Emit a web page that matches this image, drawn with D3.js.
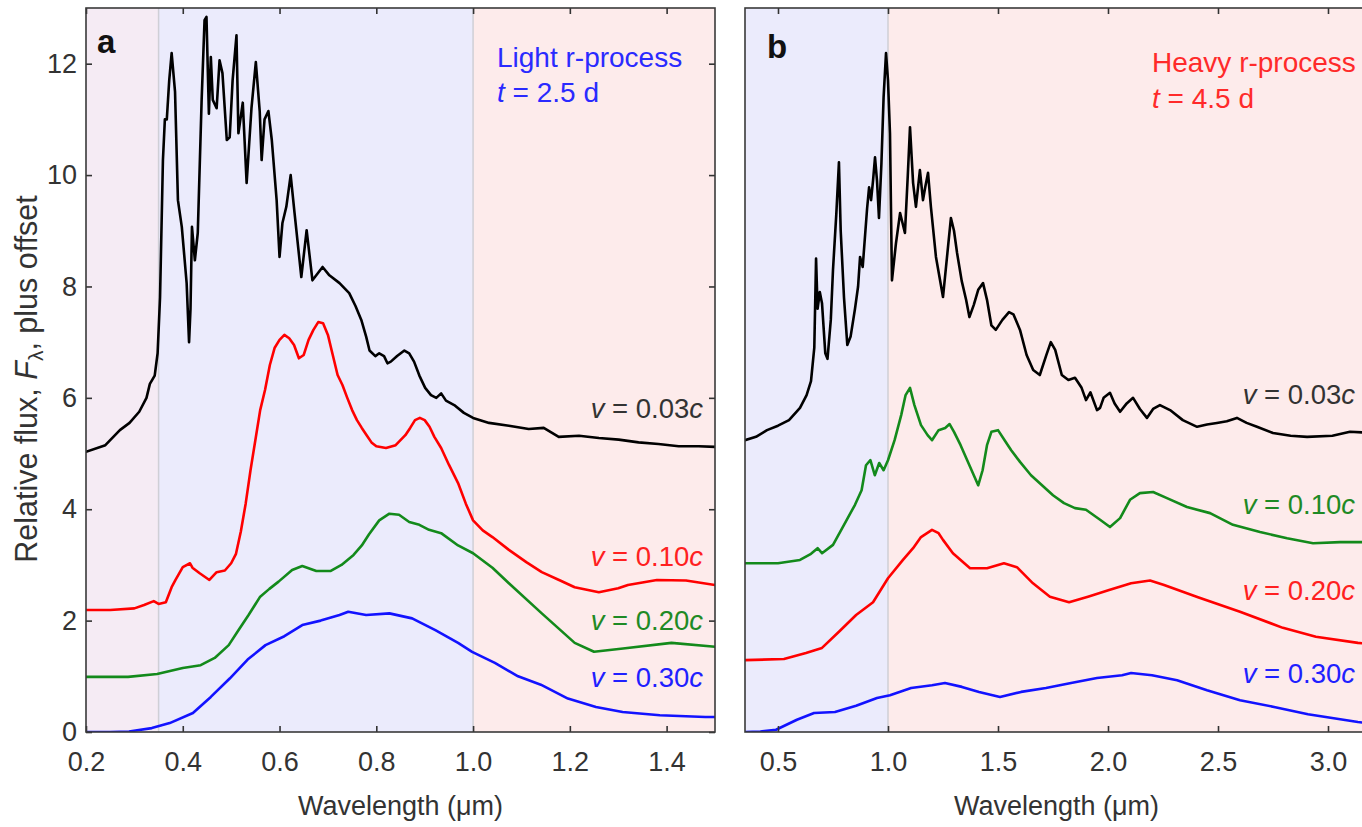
<!DOCTYPE html>
<html><head><meta charset="utf-8">
<script src="https://cdn.jsdelivr.net/npm/d3@7"></script>
<style>
body{margin:0;background:#fff}
svg{display:block}
text{font-family:"Liberation Sans",Arial,Helvetica,sans-serif}
</style>
</head><body>
<svg id="chart" width="1362" height="827"></svg>
<script>
// ---------- DATA (wavelength in µm, relative flux + offset) ----------
// Panel a: light r-process, t = 2.5 d
const aV003 = [[0.20,5.03],[0.24,5.15],[0.27,5.42],[0.29,5.55],[0.31,5.75],[0.325,6.0],[0.332,6.25],[0.342,6.4],[0.348,6.8],[0.353,7.8],[0.359,10.27],[0.363,11.0],[0.367,11.0],[0.372,11.7],[0.377,12.19],[0.384,11.5],[0.39,9.55],[0.398,9.07],[0.408,8.06],[0.413,7.0],[0.416,7.6],[0.419,9.07],[0.425,8.47],[0.431,8.96],[0.439,11.35],[0.445,12.78],[0.449,12.84],[0.454,11.1],[0.458,12.12],[0.462,11.35],[0.47,11.2],[0.476,12.06],[0.482,11.83],[0.491,10.63],[0.497,10.68],[0.503,11.7],[0.511,12.51],[0.515,10.75],[0.524,11.3],[0.532,9.86],[0.542,11.2],[0.551,12.03],[0.559,11.15],[0.563,10.27],[0.569,11.0],[0.577,11.15],[0.584,10.63],[0.594,9.55],[0.6,8.53],[0.606,9.14],[0.614,9.43],[0.623,10.0],[0.631,9.32],[0.645,8.17],[0.656,9.01],[0.668,8.11],[0.689,8.35],[0.703,8.2],[0.724,8.06],[0.744,7.88],[0.757,7.65],[0.769,7.4],[0.779,7.1],[0.786,6.85],[0.798,6.75],[0.806,6.8],[0.816,6.75],[0.823,6.62],[0.83,6.65],[0.843,6.75],[0.858,6.85],[0.868,6.8],[0.878,6.65],[0.889,6.4],[0.901,6.18],[0.913,6.05],[0.924,6.0],[0.934,6.08],[0.944,5.95],[0.961,5.87],[0.981,5.73],[1.0,5.64],[1.033,5.55],[1.074,5.5],[1.115,5.44],[1.146,5.46],[1.177,5.3],[1.219,5.32],[1.26,5.28],[1.301,5.25],[1.342,5.2],[1.383,5.17],[1.425,5.13],[1.466,5.13],[1.5,5.12]];
const aV010 = [[0.2,2.19],[0.25,2.19],[0.3,2.22],[0.32,2.28],[0.34,2.35],[0.35,2.3],[0.365,2.33],[0.377,2.6],[0.385,2.73],[0.4,2.96],[0.415,3.03],[0.42,2.95],[0.435,2.85],[0.455,2.73],[0.47,2.87],[0.487,2.9],[0.5,3.03],[0.51,3.2],[0.52,3.6],[0.53,4.1],[0.54,4.7],[0.55,5.24],[0.56,5.78],[0.57,6.14],[0.58,6.59],[0.59,6.9],[0.6,7.04],[0.61,7.13],[0.62,7.07],[0.63,6.95],[0.64,6.71],[0.65,6.77],[0.66,7.04],[0.67,7.22],[0.68,7.36],[0.69,7.34],[0.70,7.13],[0.71,6.77],[0.72,6.41],[0.73,6.23],[0.74,6.0],[0.75,5.78],[0.76,5.6],[0.77,5.46],[0.78,5.33],[0.79,5.2],[0.80,5.13],[0.82,5.1],[0.84,5.15],[0.86,5.33],[0.87,5.46],[0.88,5.6],[0.89,5.64],[0.90,5.6],[0.91,5.48],[0.92,5.3],[0.934,5.1],[0.95,4.8],[0.969,4.47],[0.985,4.1],[1.0,3.8],[1.02,3.62],[1.04,3.5],[1.074,3.27],[1.11,3.05],[1.142,2.87],[1.18,2.72],[1.21,2.6],[1.26,2.51],[1.3,2.58],[1.32,2.64],[1.38,2.73],[1.44,2.72],[1.5,2.64]];
const aV020 = [[0.2,0.99],[0.287,0.99],[0.347,1.04],[0.4,1.15],[0.437,1.2],[0.466,1.33],[0.495,1.56],[0.513,1.8],[0.536,2.1],[0.56,2.43],[0.579,2.57],[0.598,2.7],[0.626,2.91],[0.647,2.98],[0.676,2.89],[0.705,2.89],[0.728,3.0],[0.753,3.18],[0.77,3.35],[0.785,3.55],[0.806,3.8],[0.827,3.92],[0.847,3.9],[0.868,3.77],[0.889,3.72],[0.909,3.63],[0.934,3.57],[0.969,3.35],[1.0,3.21],[1.04,2.95],[1.074,2.67],[1.142,2.13],[1.21,1.6],[1.25,1.44],[1.31,1.5],[1.41,1.6],[1.5,1.53]];
const aV030 = [[0.2,0],[0.25,0],[0.289,0.01],[0.336,0.07],[0.373,0.16],[0.421,0.34],[0.458,0.63],[0.497,0.96],[0.534,1.3],[0.571,1.56],[0.61,1.72],[0.647,1.92],[0.685,2.0],[0.724,2.1],[0.742,2.16],[0.779,2.1],[0.827,2.13],[0.874,2.04],[0.922,1.83],[0.969,1.6],[0.998,1.44],[1.045,1.24],[1.093,1.0],[1.14,0.85],[1.196,0.6],[1.254,0.45],[1.309,0.36],[1.386,0.3],[1.48,0.27],[1.5,0.27]];
// Panel b: heavy r-process, t = 4.5 d
const bV003 = [[0.35,5.24],[0.40,5.3],[0.45,5.42],[0.5,5.5],[0.55,5.6],[0.6,5.82],[0.63,6.05],[0.65,6.3],[0.665,6.9],[0.673,8.5],[0.68,7.6],[0.69,7.9],[0.70,7.7],[0.715,6.8],[0.725,6.7],[0.74,7.4],[0.75,8.3],[0.765,9.3],[0.777,10.23],[0.785,9.0],[0.8,7.8],[0.815,6.95],[0.83,7.1],[0.85,7.6],[0.864,8.0],[0.873,8.53],[0.885,8.35],[0.905,9.4],[0.914,9.78],[0.923,9.55],[0.932,9.9],[0.941,10.32],[0.95,9.9],[0.959,9.23],[0.97,10.2],[0.98,11.4],[0.991,12.19],[1.0,11.7],[1.009,10.75],[1.018,8.11],[1.036,8.77],[1.055,9.32],[1.077,8.96],[1.09,10.0],[1.1,10.86],[1.114,9.86],[1.127,9.43],[1.145,10.09],[1.159,9.55],[1.17,9.8],[1.182,10.04],[1.195,9.43],[1.218,8.53],[1.25,7.81],[1.27,8.6],[1.286,9.23],[1.3,9.0],[1.314,8.6],[1.335,8.1],[1.355,7.76],[1.37,7.45],[1.39,7.67],[1.41,7.94],[1.432,8.06],[1.45,7.76],[1.47,7.3],[1.49,7.22],[1.52,7.4],[1.55,7.54],[1.57,7.5],[1.6,7.22],[1.63,6.77],[1.66,6.5],[1.69,6.41],[1.72,6.77],[1.74,7.0],[1.76,6.86],[1.79,6.41],[1.82,6.32],[1.85,6.36],[1.88,6.18],[1.9,5.96],[1.92,6.1],[1.95,5.78],[1.964,5.82],[1.98,6.0],[2.009,6.09],[2.03,5.9],[2.055,5.75],[2.085,5.9],[2.114,6.0],[2.145,5.8],[2.177,5.64],[2.205,5.8],[2.236,5.87],[2.282,5.78],[2.34,5.6],[2.405,5.48],[2.45,5.52],[2.495,5.55],[2.54,5.58],[2.586,5.64],[2.63,5.55],[2.677,5.48],[2.75,5.37],[2.83,5.32],[2.905,5.3],[3.02,5.32],[3.1,5.39],[3.2,5.37]];
const bV010 = [[0.35,3.03],[0.5,3.03],[0.6,3.09],[0.65,3.2],[0.68,3.3],[0.7,3.21],[0.75,3.36],[0.8,3.72],[0.85,4.08],[0.88,4.34],[0.9,4.79],[0.92,4.88],[0.94,4.61],[0.96,4.83],[0.98,4.7],[1.0,4.88],[1.03,5.24],[1.06,5.69],[1.08,6.05],[1.1,6.18],[1.12,5.87],[1.15,5.51],[1.18,5.33],[1.2,5.24],[1.23,5.42],[1.26,5.46],[1.28,5.53],[1.3,5.39],[1.33,5.15],[1.36,4.88],[1.39,4.61],[1.41,4.43],[1.43,4.7],[1.45,5.15],[1.47,5.39],[1.5,5.42],[1.53,5.24],[1.56,5.06],[1.6,4.85],[1.65,4.61],[1.7,4.43],[1.75,4.25],[1.8,4.11],[1.85,4.02],[1.9,3.99],[1.964,3.81],[2.009,3.68],[2.055,3.84],[2.1,4.17],[2.145,4.29],[2.205,4.31],[2.268,4.2],[2.359,4.04],[2.464,3.93],[2.568,3.72],[2.691,3.59],[2.814,3.48],[2.932,3.39],[3.055,3.41],[3.2,3.41]];
const bV020 = [[0.35,1.29],[0.527,1.31],[0.627,1.42],[0.7,1.51],[0.777,1.8],[0.855,2.1],[0.932,2.33],[1.0,2.76],[1.068,3.09],[1.114,3.3],[1.15,3.5],[1.2,3.63],[1.23,3.57],[1.25,3.45],[1.295,3.21],[1.373,2.94],[1.45,2.94],[1.527,3.03],[1.586,2.96],[1.659,2.67],[1.736,2.43],[1.823,2.33],[1.909,2.43],[2.005,2.55],[2.105,2.67],[2.191,2.72],[2.255,2.64],[2.409,2.42],[2.6,2.16],[2.795,1.87],[2.945,1.71],[3.136,1.6],[3.2,1.58]];
const bV030 = [[0.35,0],[0.42,0.01],[0.491,0.04],[0.586,0.22],[0.664,0.34],[0.759,0.36],[0.855,0.47],[0.95,0.61],[1.009,0.66],[1.105,0.79],[1.2,0.84],[1.259,0.88],[1.336,0.81],[1.414,0.72],[1.509,0.63],[1.605,0.72],[1.718,0.79],[1.832,0.88],[1.95,0.97],[2.064,1.02],[2.105,1.06],[2.2,1.02],[2.314,0.93],[2.45,0.75],[2.6,0.57],[2.755,0.45],[2.909,0.32],[3.136,0.18],[3.2,0.15]];

const yTicks = [0,2,4,6,8,10,12];
const aXTicks = [0.2,0.4,0.6,0.8,1.0,1.2,1.4];
const bXTicks = [0.5,1.0,1.5,2.0,2.5,3.0];
const velocities = ["0.03","0.10","0.20","0.30"];
const aBands = [[0.2,0.35],[0.35,1.0],[1.0,1.5]];
const bBands = [[0.35,1.0],[1.0,3.2]];

// ---------- LAYOUT ----------
const svg = d3.select("#chart");
const FONT = '"Liberation Sans",Arial,Helvetica,sans-serif';
const yScale = d3.scaleLinear().domain([0,13]).range([732,8]);

const panels = [
  {id:"a", letter:"a", letterX:97, letterY:53,
   x:d3.scaleLinear().domain([0.2,1.5]).range([86,715]),
   ticks:aXTicks, bands:aBands, bandColors:["#f5ebf4","#ebebfc","#fdebeb"], dividers:[0.35,1.0],
   leftAxis:true,
   series:[aV003,aV010,aV020,aV030], colors:["#000","#ff0000","#138a1b","#1212ff"],
   labelColors:["#333","#ff2020","#1f8a25","#2020ff"], labelY:[418,566,630,687], labelX:703,
   title:["Light r-process","2.5 d"], titleColor:"#2a2aff", titleX:497, titleY:[67,102]},
  {id:"b", letter:"b", letterX:767, letterY:58,
   x:d3.scaleLinear().domain([0.35,3.2]).range([745,1372]),
   ticks:bXTicks, bands:bBands, bandColors:["#ebebfc","#fdebeb"], dividers:[1.0],
   leftAxis:false,
   series:[bV003,bV010,bV020,bV030], colors:["#000","#138a1b","#ff0000","#1212ff"],
   labelColors:["#333","#1f8a25","#ff2020","#2020ff"], labelY:[404,514,600,683], labelX:1355,
   title:["Heavy r-process","4.5 d"], titleColor:"#ff2a2a", titleX:1152, titleY:[72,108]}
];

const defs = svg.append("defs");

panels.forEach(p => {
  const x = p.x, y = yScale;
  const [x0,x1] = x.range(), [yb,yt] = y.range();
  const g = svg.append("g").attr("id","panel-"+p.id);

  defs.append("clipPath").attr("id","clip-"+p.id)
    .append("rect").attr("x",x0).attr("y",yt).attr("width",x1-x0).attr("height",yb-yt);

  // background bands
  g.append("g").selectAll("rect").data(p.bands).join("rect")
    .attr("x",d=>x(d[0])).attr("width",d=>x(d[1])-x(d[0]))
    .attr("y",yt).attr("height",yb-yt)
    .attr("fill",(d,i)=>p.bandColors[i]);
  g.append("g").selectAll("line").data(p.dividers).join("line")
    .attr("x1",d=>x(d)).attr("x2",d=>x(d)).attr("y1",yt).attr("y2",yb)
    .attr("stroke","#cfcfd6").attr("stroke-width",1.5);

  // spectra
  const line = d3.line().x(d=>x(d[0])).y(d=>y(d[1]));
  g.append("g").attr("clip-path",`url(#clip-${p.id})`)
    .selectAll("path").data(p.series).join("path")
    .attr("d",line).attr("fill","none")
    .attr("stroke",(d,i)=>p.colors[i]).attr("stroke-width",2.6)
    .attr("stroke-linejoin","round").attr("stroke-linecap","round");

  // axes (ticks inward)
  const styleAxis = sel => {
    sel.select(".domain").remove();
    sel.selectAll(".tick line").attr("stroke","#333").attr("stroke-width",1.6);
    sel.selectAll(".tick text").attr("fill","#333").style("font-family",FONT).style("font-size","27px");
  };
  g.append("g").attr("transform",`translate(0,${yb})`)
    .call(d3.axisBottom(x).tickValues(p.ticks).tickFormat(d3.format(".1f")).tickSizeInner(-6).tickSizeOuter(0).tickPadding(20))
    .call(styleAxis);
  g.append("g").attr("transform",`translate(0,${yt})`)
    .call(d3.axisTop(x).tickValues(p.ticks).tickFormat("").tickSizeInner(-6).tickSizeOuter(0))
    .call(styleAxis);
  if (p.leftAxis) {
    g.append("g").attr("transform",`translate(${x0},0)`)
      .call(d3.axisLeft(y).tickValues(yTicks).tickFormat(d3.format("d")).tickSizeInner(-6).tickSizeOuter(0).tickPadding(9))
      .call(styleAxis);
    g.append("g").attr("transform",`translate(${x1},0)`)
      .call(d3.axisRight(y).tickValues(yTicks).tickFormat("").tickSizeInner(-6).tickSizeOuter(0))
      .call(styleAxis);
  }

  // frame
  g.append("rect").attr("x",x0).attr("y",yt).attr("width",x1-x0).attr("height",yb-yt)
    .attr("fill","none").attr("stroke","#3a3a3a").attr("stroke-width",1.6);

  // panel letter
  g.append("text").attr("x",p.letterX).attr("y",p.letterY)
    .attr("font-size",33).attr("font-weight","bold").attr("fill","#111").text(p.letter);

  // title
  g.append("text").attr("x",p.titleX).attr("y",p.titleY[0])
    .attr("font-size",28).attr("fill",p.titleColor).text(p.title[0]);
  const t2 = g.append("text").attr("x",p.titleX).attr("y",p.titleY[1])
    .attr("font-size",28).attr("fill",p.titleColor);
  t2.append("tspan").attr("font-style","italic").text("t");
  t2.append("tspan").text(" = " + p.title[1]);

  // series labels
  velocities.forEach((v,i) => {
    const t = g.append("text").attr("x",p.labelX).attr("y",p.labelY[i])
      .attr("text-anchor","end").attr("font-size",27.5).attr("fill",p.labelColors[i]);
    t.append("tspan").attr("font-style","italic").text("v");
    t.append("tspan").text(" = " + v);
    t.append("tspan").attr("font-style","italic").text("c");
  });

  // x title
  g.append("text").attr("x",(x0+Math.min(x1,1372))/2 - (p.id==="b"?2:0)).attr("y",815)
    .attr("text-anchor","middle").attr("font-size",27).attr("fill","#333")
    .text("Wavelength (\u03bcm)");
});

// y title
const yt = svg.append("text").attr("transform","translate(37,379) rotate(-90)")
  .attr("text-anchor","middle").attr("font-size",30.5).attr("fill","#333");
yt.append("tspan").text("Relative flux, ");
yt.append("tspan").attr("font-style","italic").text("F");
yt.append("tspan").attr("font-size",21).attr("dy",6).text("\u03bb");
yt.append("tspan").attr("dy",-6).text(", plus offset");
</script>
</body></html>
